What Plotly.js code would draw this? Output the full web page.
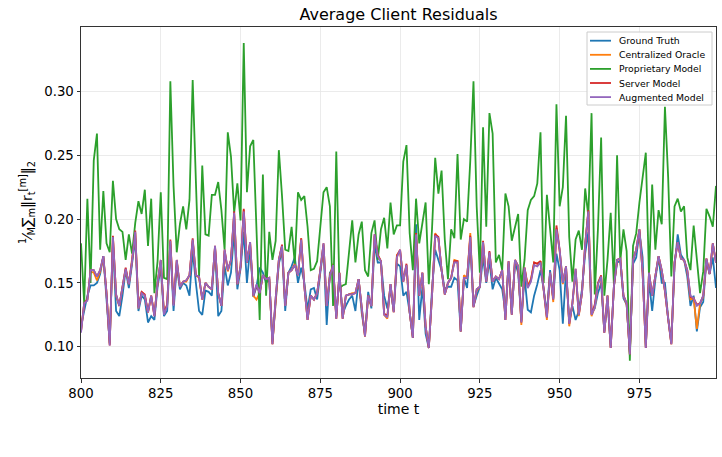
<!DOCTYPE html>
<html>
<head>
<meta charset="utf-8">
<script src="https://cdn.plot.ly/plotly-3.0.1.min.js"></script>
<style>html,body{margin:0;padding:0;background:#fff;}#chart{width:722px;height:457px;}</style>
</head>
<body>
<div id="chart"></div>
<script>
const tStart = 800;
const seriesNames = ["Ground Truth", "Centralized Oracle", "Proprietary Model", "Server Model", "Augmented Model"];

const groundTruth = [
0.116,0.129,0.140,0.148,0.148,0.150,0.157,0.171,0.140,0.103,
0.182,0.128,0.124,0.140,0.160,0.146,0.165,0.185,0.128,0.140,
0.137,0.119,0.124,0.121,0.147,0.162,0.124,0.128,0.180,0.128,
0.163,0.145,0.150,0.148,0.140,0.175,0.150,0.128,0.125,0.144,
0.143,0.140,0.178,0.124,0.128,0.163,0.148,0.158,0.190,0.145,
0.161,0.190,0.150,0.178,0.139,0.147,0.162,0.158,0.150,0.153,
0.104,0.136,0.165,0.175,0.128,0.158,0.163,0.170,0.150,0.162,
0.150,0.129,0.145,0.146,0.137,0.158,0.177,0.117,0.158,0.161,
0.124,0.155,0.126,0.132,0.137,0.140,0.128,0.153,0.126,0.110,
0.143,0.130,0.180,0.166,0.166,0.140,0.130,0.145,0.128,0.165,
0.163,0.140,0.143,0.127,0.107,0.196,0.121,0.147,0.110,0.099,
0.145,0.176,0.168,0.160,0.145,0.147,0.147,0.154,0.152,0.112,
0.154,0.146,0.182,0.132,0.140,0.147,0.170,0.150,0.167,0.145,
0.154,0.150,0.145,0.127,0.165,0.126,0.166,0.158,0.120,0.155,
0.129,0.127,0.140,0.149,0.160,0.145,0.126,0.160,0.138,0.173,
0.160,0.118,0.160,0.120,0.132,0.121,0.128,0.145,0.173,0.190,
0.126,0.130,0.142,0.150,0.112,0.136,0.100,0.147,0.166,0.167,
0.138,0.133,0.096,0.165,0.170,0.190,0.170,0.100,0.152,0.128,
0.153,0.170,0.150,0.150,0.123,0.103,0.163,0.188,0.172,0.168,
0.155,0.132,0.140,0.112,0.131,0.135,0.167,0.157,0.170,0.146];

const centralizedOracle = [
0.112,0.134,0.137,0.159,0.158,0.152,0.159,0.170,0.142,0.102,
0.186,0.140,0.132,0.147,0.161,0.149,0.167,0.189,0.130,0.143,
0.140,0.127,0.140,0.125,0.150,0.167,0.126,0.133,0.183,0.134,
0.167,0.147,0.151,0.151,0.156,0.183,0.156,0.154,0.137,0.150,
0.147,0.145,0.178,0.142,0.132,0.175,0.159,0.168,0.204,0.149,
0.163,0.207,0.166,0.181,0.140,0.137,0.142,0.156,0.153,0.154,
0.102,0.138,0.168,0.179,0.132,0.158,0.160,0.165,0.156,0.185,
0.147,0.121,0.140,0.137,0.142,0.160,0.180,0.132,0.156,0.165,
0.122,0.158,0.122,0.140,0.141,0.142,0.142,0.153,0.129,0.108,
0.140,0.132,0.187,0.172,0.167,0.125,0.122,0.149,0.127,0.172,
0.175,0.151,0.164,0.127,0.107,0.189,0.140,0.158,0.116,0.099,
0.140,0.189,0.185,0.160,0.141,0.150,0.154,0.168,0.167,0.112,
0.156,0.154,0.189,0.131,0.144,0.147,0.182,0.151,0.174,0.151,
0.155,0.153,0.160,0.121,0.167,0.125,0.168,0.163,0.117,0.162,
0.148,0.153,0.166,0.165,0.167,0.145,0.121,0.158,0.135,0.193,
0.175,0.149,0.163,0.116,0.134,0.159,0.124,0.142,0.180,0.206,
0.124,0.131,0.149,0.155,0.111,0.140,0.099,0.147,0.168,0.169,
0.140,0.133,0.094,0.168,0.176,0.192,0.158,0.099,0.158,0.140,
0.155,0.171,0.159,0.143,0.122,0.102,0.166,0.182,0.169,0.168,
0.159,0.137,0.138,0.114,0.134,0.139,0.169,0.157,0.181,0.166];

const proprietaryModel = [
0.181,0.134,0.216,0.150,0.246,0.267,0.176,0.222,0.181,0.174,
0.230,0.200,0.192,0.190,0.168,0.188,0.173,0.197,0.214,0.204,
0.223,0.179,0.216,0.142,0.167,0.221,0.154,0.153,0.308,0.226,
0.174,0.196,0.210,0.192,0.215,0.309,0.230,0.155,0.242,0.188,
0.187,0.219,0.219,0.229,0.207,0.176,0.268,0.249,0.205,0.228,
0.199,0.338,0.221,0.257,0.262,0.189,0.121,0.235,0.140,0.190,
0.168,0.183,0.254,0.218,0.176,0.175,0.194,0.165,0.221,0.215,
0.218,0.194,0.160,0.161,0.167,0.194,0.221,0.225,0.210,0.132,
0.253,0.146,0.148,0.149,0.176,0.199,0.166,0.188,0.198,0.160,
0.155,0.189,0.199,0.168,0.192,0.201,0.177,0.213,0.188,0.195,
0.195,0.245,0.258,0.189,0.160,0.216,0.181,0.197,0.213,0.149,
0.192,0.248,0.220,0.238,0.184,0.153,0.192,0.185,0.251,0.184,
0.200,0.198,0.246,0.308,0.210,0.158,0.272,0.194,0.283,0.267,
0.166,0.172,0.160,0.220,0.210,0.183,0.194,0.204,0.147,0.168,
0.207,0.215,0.218,0.228,0.268,0.150,0.219,0.192,0.166,0.290,
0.210,0.225,0.281,0.186,0.151,0.184,0.191,0.176,0.224,0.202,
0.283,0.141,0.192,0.264,0.140,0.168,0.205,0.149,0.250,0.167,
0.192,0.175,0.089,0.179,0.189,0.213,0.233,0.252,0.155,0.227,
0.176,0.207,0.196,0.288,0.233,0.155,0.210,0.216,0.206,0.210,
0.170,0.160,0.195,0.171,0.142,0.159,0.208,0.202,0.194,0.226];

const serverModel = [
0.112,0.134,0.137,0.160,0.160,0.155,0.160,0.171,0.142,0.101,
0.187,0.141,0.132,0.147,0.162,0.149,0.167,0.191,0.131,0.143,
0.141,0.127,0.140,0.124,0.150,0.168,0.126,0.133,0.184,0.133,
0.168,0.147,0.151,0.152,0.156,0.185,0.156,0.155,0.137,0.150,
0.147,0.145,0.179,0.142,0.132,0.176,0.160,0.168,0.206,0.149,
0.163,0.208,0.166,0.182,0.140,0.148,0.142,0.156,0.153,0.154,
0.102,0.138,0.168,0.180,0.132,0.158,0.160,0.164,0.156,0.185,
0.147,0.121,0.140,0.137,0.142,0.160,0.181,0.132,0.155,0.164,
0.122,0.158,0.122,0.140,0.141,0.141,0.142,0.153,0.129,0.108,
0.140,0.132,0.188,0.172,0.167,0.126,0.124,0.149,0.127,0.171,
0.176,0.151,0.165,0.127,0.107,0.189,0.140,0.158,0.116,0.099,
0.140,0.188,0.186,0.160,0.141,0.150,0.154,0.167,0.167,0.112,
0.154,0.154,0.187,0.131,0.145,0.147,0.183,0.151,0.175,0.151,
0.155,0.153,0.160,0.121,0.167,0.125,0.168,0.163,0.119,0.162,
0.147,0.152,0.166,0.165,0.167,0.145,0.123,0.158,0.137,0.195,
0.176,0.150,0.163,0.118,0.134,0.161,0.125,0.142,0.180,0.207,
0.125,0.133,0.150,0.156,0.111,0.140,0.099,0.147,0.168,0.169,
0.140,0.134,0.094,0.168,0.176,0.192,0.158,0.099,0.158,0.140,
0.155,0.171,0.160,0.144,0.122,0.102,0.166,0.182,0.169,0.168,
0.160,0.139,0.138,0.133,0.134,0.140,0.169,0.157,0.181,0.166];

const augmentedModel = [
0.111,0.134,0.136,0.160,0.160,0.155,0.160,0.171,0.142,0.101,
0.186,0.141,0.132,0.147,0.161,0.149,0.167,0.190,0.130,0.142,
0.140,0.127,0.140,0.124,0.150,0.168,0.125,0.132,0.183,0.132,
0.168,0.147,0.151,0.152,0.156,0.184,0.156,0.155,0.137,0.150,
0.147,0.145,0.179,0.142,0.132,0.176,0.160,0.168,0.205,0.149,
0.163,0.206,0.166,0.182,0.140,0.149,0.142,0.156,0.153,0.154,
0.102,0.138,0.168,0.179,0.132,0.158,0.160,0.164,0.156,0.184,
0.147,0.121,0.140,0.137,0.142,0.160,0.181,0.132,0.155,0.164,
0.122,0.158,0.122,0.140,0.141,0.141,0.142,0.153,0.129,0.108,
0.140,0.132,0.188,0.171,0.167,0.125,0.123,0.149,0.127,0.170,
0.176,0.151,0.164,0.127,0.107,0.188,0.140,0.158,0.116,0.099,
0.140,0.187,0.185,0.160,0.141,0.150,0.154,0.166,0.166,0.112,
0.154,0.154,0.186,0.131,0.145,0.147,0.182,0.151,0.174,0.151,
0.155,0.153,0.160,0.121,0.167,0.125,0.168,0.163,0.119,0.162,
0.146,0.151,0.164,0.163,0.166,0.145,0.123,0.158,0.137,0.192,
0.176,0.150,0.163,0.118,0.134,0.161,0.125,0.142,0.180,0.206,
0.125,0.131,0.149,0.155,0.111,0.140,0.099,0.147,0.168,0.169,
0.140,0.134,0.094,0.168,0.176,0.192,0.158,0.099,0.158,0.140,
0.155,0.171,0.160,0.144,0.122,0.102,0.166,0.182,0.169,0.168,
0.160,0.140,0.138,0.132,0.134,0.140,0.169,0.157,0.181,0.166];

const xTickVals = [800, 825, 850, 875, 900, 925, 950, 975];
const yTickVals = [0.10, 0.15, 0.20, 0.25, 0.30];
const yTickText = ["0.10", "0.15", "0.20", "0.25", "0.30"];
const colors = ["#1f77b4", "#ff7f0e", "#2ca02c", "#d62728", "#9467bd"];

const tValues = groundTruth.map((_, i) => tStart + i);
const allSeries = [groundTruth, centralizedOracle, proprietaryModel, serverModel, augmentedModel];

const traces = allSeries.map((ys, k) => ({
  type: "scatter",
  mode: "lines",
  x: tValues,
  y: ys,
  name: seriesNames[k],
  line: {color: colors[k], width: 1.8}
}));

// Legend drawn in paper space (matplotlib-style compact legend, upper right)
const W = 722, H = 457, mL = 81, mR = 6, mT = 27, mB = 79;
const pw = W - mL - mR, ph = H - mT - mB;
const px = v => (v - mL) / pw;
const py = v => (H - mB - v) / ph;
const legBox = {x0: 587, x1: 712, y0: 32, y1: 105};
const rowTop = 40.7, rowGap = 14.1;
const shapes = [{
  type: "rect", xref: "paper", yref: "paper",
  x0: px(legBox.x0), x1: px(legBox.x1), y0: py(legBox.y1), y1: py(legBox.y0),
  fillcolor: "rgba(255,255,255,0.85)", line: {color: "#cccccc", width: 1}, layer: "above"
}];
const annotations = [];
seriesNames.forEach((name, k) => {
  const yy = py(rowTop + k * rowGap);
  shapes.push({type: "line", xref: "paper", yref: "paper",
    x0: px(590), x1: px(611), y0: yy, y1: yy,
    line: {color: colors[k], width: 1.8}, layer: "above"});
  annotations.push({xref: "paper", yref: "paper", x: px(617), y: yy,
    xanchor: "left", yanchor: "middle", showarrow: false, text: name,
    font: {family: "DejaVu Sans, sans-serif", size: 9.3, color: "#000"}});
});

const font = "DejaVu Sans, sans-serif";
const layout = {
  width: W,
  height: H,
  margin: {l: mL, r: mR, t: mT, b: mB},
  paper_bgcolor: "#ffffff",
  plot_bgcolor: "#ffffff",
  font: {family: font, color: "#000000", size: 13},
  title: {
    text: "Average Client Residuals",
    font: {family: font, size: 16, color: "#000"},
    x: 0.5, xref: "paper", xanchor: "center",
    y: 1 - 14/457, yref: "container", yanchor: "middle"
  },
  xaxis: {
    range: [800, 999],
    tickvals: xTickVals,
    ticks: "outside", ticklen: 3.5, tickwidth: 0.8, tickcolor: "#000",
    showline: true, linecolor: "#333", linewidth: 1, mirror: true,
    showgrid: true, gridcolor: "#e6e6e6", gridwidth: 0.8,
    zeroline: false,
    tickfont: {family: font, size: 13.3},
    title: {text: "time t", font: {family: font, size: 14}, standoff: 3}
  },
  yaxis: {
    range: [0.0755, 0.3505],
    tickvals: yTickVals,
    ticktext: yTickText,
    ticks: "outside", ticklen: 3.5, tickwidth: 0.8, tickcolor: "#000",
    showline: true, linecolor: "#333", linewidth: 1, mirror: true,
    showgrid: true, gridcolor: "#e6e6e6", gridwidth: 0.8,
    zeroline: false,
    tickfont: {family: font, size: 13.3},
    title: {text: "<sup>1</sup>⁄<sub>M</sub>∑<sub>m</sub>‖r<sub>t</sub><sup>[m]</sup>‖<sub>2</sub>", font: {family: font, size: 14}, standoff: 8}
  },
  showlegend: false,
  shapes: shapes,
  annotations: annotations
};

Plotly.newPlot("chart", traces, layout, {displayModeBar: false, staticPlot: true});
</script>
</body>
</html>
